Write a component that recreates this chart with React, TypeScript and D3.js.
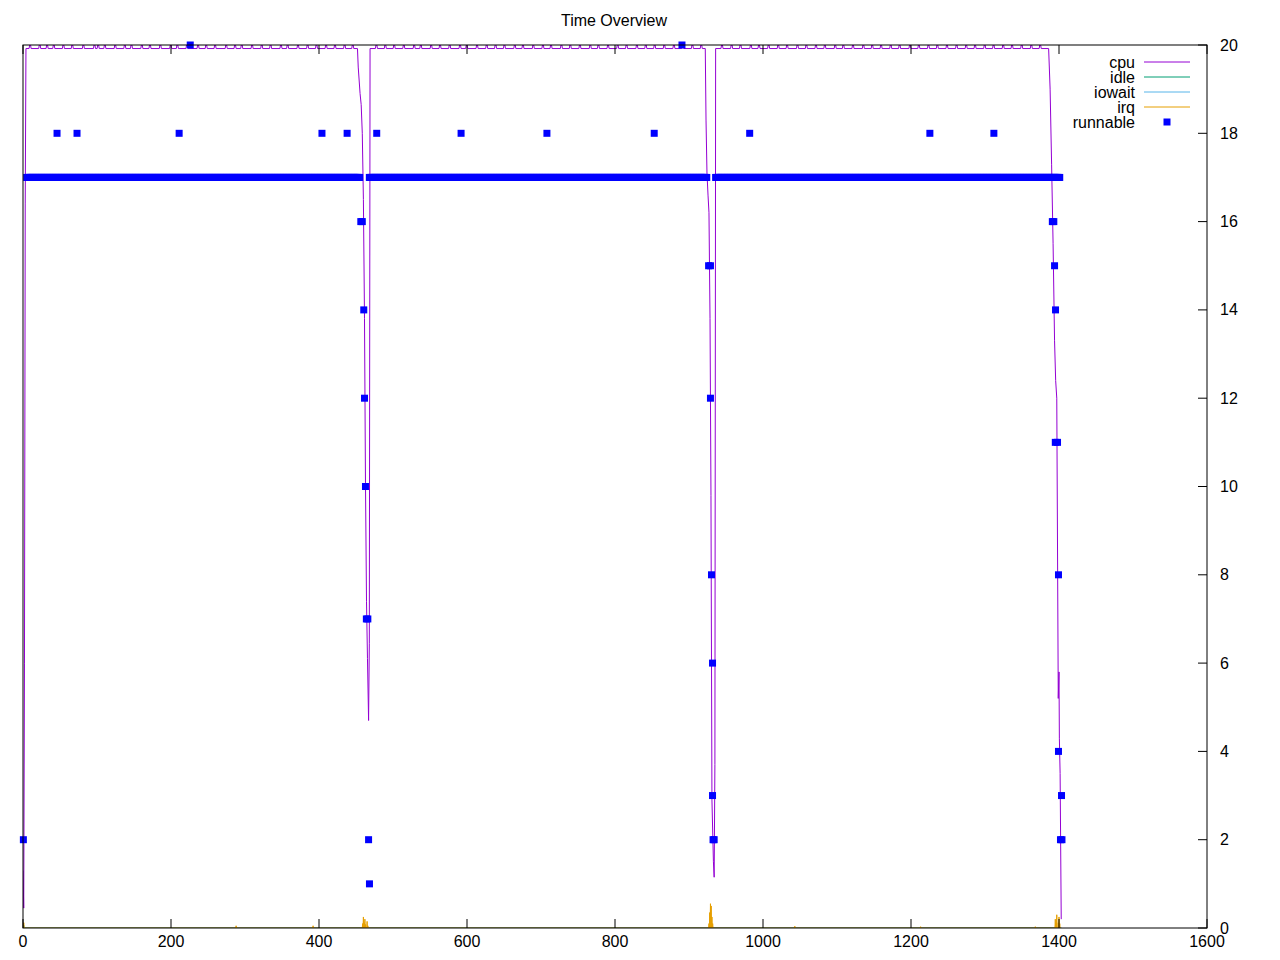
import React from "react";
import * as d3 from "d3";

// ---------- data ----------
const xTicks = [0, 200, 400, 600, 800, 1000, 1200, 1400, 1600];
const yTicks = [0, 2, 4, 6, 8, 10, 12, 14, 16, 18, 20];
const seriesNames = ["cpu", "idle", "iowait", "irq", "runnable"];
const seriesColors = ["#9400d3", "#009e73", "#56b4e9", "#e69f00", "#0000ff"];

const cpuPlateau = 19.92;
const cpuKeys: [number, number][] = [
  [0, 1.3], [1, 0.45], [2, 6.0], [3, 16.4], [4, 19.92],
  [452, 19.92], [453, 19.5], [455.5, 18.9], [457, 18.65], [458.5, 18.0], [460, 16.5], [461.5, 13.8],
  [462.8, 10.1], [464.2, 7.4], [465.5, 6.1], [467, 4.7], [468, 6.45], [469, 19.92],
  [922, 19.92], [923, 18.3], [924.3, 17.1], [925.7, 16.6], [927, 16.2], [928.4, 13.8], [929.7, 9.8],
  [931, 2.9], [933, 1.5], [934, 1.15], [935, 3.7], [936, 19.92],
  [1386, 19.92], [1388, 19.0], [1390, 17.3], [1392, 15.5], [1394, 13.3], [1395.5, 12.4], [1397, 12.0],
  [1399, 5.2], [1400, 5.8], [1400.5, 4.3], [1401.5, 3.5], [1403, 0.2],
];
const cpuBumps = [
  9, 22, 32, 41, 54, 66, 81, 96, 101, 110, 124, 137, 146, 160, 171, 185, 199, 208, 221, 236, 247, 259, 274, 286,
  295, 309, 322, 334, 348, 357, 371, 384, 396, 409, 421, 434, 445,
  477, 489, 501, 514, 528, 537, 551, 563, 576, 590, 599, 613, 626, 638, 650, 664, 675, 689, 702, 713, 727, 739,
  752, 766, 777, 790, 803, 815, 829, 841, 853, 866, 879, 891, 904, 916,
  944, 957, 969, 983, 994, 1007, 1020, 1032, 1046, 1058, 1071, 1083, 1097, 1108, 1121, 1135, 1147, 1159, 1172,
  1184, 1198, 1210, 1223, 1235, 1248, 1261, 1274, 1286, 1299, 1311, 1324, 1336, 1349, 1362, 1374,
];
const cpuBumpValue = 20.0;

const idleSpikes: [number, number][] = [[1, 0.06]];
const iowaitSpikes: [number, number][] = [];
const irqSpikes: [number, number][] = [
  [1, 0.12], [288, 0.05], [392, 0.05], [459, 0.1], [460, 0.25], [461, 0.12], [462, 0.2], [463, 0.08],
  [465, 0.15], [466, 0.05], [927, 0.1], [928, 0.35], [929, 0.55], [930, 0.5], [931, 0.25], [932, 0.1],
  [1043, 0.04], [1213, 0.03], [1368, 0.03], [1395, 0.2], [1397, 0.3], [1399, 0.12], [1400, 0.25], [1401, 0.1],
];
const seriesEnd = 1403;

// runnable: runs of constant value [start, end, value], one sample per second
const runnableRuns: [number, number, number][] = [
  [5, 455, 17], [468, 924, 17], [936, 1401, 17],
];
const runnablePoints: [number, number][] = [
  [0.5, 2], [46, 18], [73, 18], [211, 18], [226, 20], [404, 18], [438, 18],
  [456.5, 16], [458.5, 16], [460.5, 14], [461.5, 12], [462.8, 10], [464, 7], [466, 7], [467, 2], [468.2, 1],
  [478, 18], [592, 18], [708, 18], [853, 18], [890.5, 20],
  [926.5, 15], [929, 15], [929, 12], [930.4, 8], [931.8, 6], [931.8, 3], [932.5, 2], [934, 2],
  [982, 18], [1225.5, 18], [1312, 18],
  [1391, 16], [1393, 16], [1394, 15], [1395.3, 14], [1395, 11], [1398, 11], [1399.3, 8], [1399.3, 4],
  [1403.4, 3], [1402, 2], [1404, 2],
];

// ---------- layout ----------
const W = 1280, H = 960;
const L = 23, R = 1207, T = 45, B = 928;
const FONT = "'Liberation Sans', Arial, sans-serif";

const x = d3.scaleLinear().domain([0, 1600]).range([L, R]);
const y = d3.scaleLinear().domain([0, 20]).range([B, T]);

function buildCpu(): [number, number][] {
  const pts: [number, number][] = [...cpuKeys];
  for (const b of cpuBumps) {
    pts.push([b - 0.8, cpuPlateau], [b, cpuBumpValue], [b + 1.2, cpuBumpValue], [b + 2, cpuPlateau]);
  }
  return pts.sort((a, b) => a[0] - b[0]);
}
function buildSpiky(spikes: [number, number][]): [number, number][] {
  const pts: [number, number][] = [[0, 0]];
  for (const [t, v] of spikes) pts.push([t - 0.5, 0], [t, v], [t + 0.5, 0]);
  pts.push([seriesEnd, 0]);
  return pts.sort((a, b) => a[0] - b[0]);
}
function buildRunnable(): [number, number][] {
  const pts: [number, number][] = [];
  for (const [s, e, v] of runnableRuns) for (let t = s; t <= e; t++) pts.push([t, v]);
  return pts.concat(runnablePoints);
}

const line = d3.line<[number, number]>().x((d) => x(d[0])).y((d) => y(d[1]));

export default function App() {
  const lineSeries = [buildCpu(), buildSpiky(idleSpikes), buildSpiky(iowaitSpikes), buildSpiky(irqSpikes)];
  const runnable = buildRunnable();
  const ms = 7;
  return (
    <svg width={W} height={H} style={{ position: "absolute", left: 0, top: 0, background: "#fff" }}
      fontFamily={FONT}>
      <defs>
        <clipPath id="plot"><rect x={L} y={T} width={R - L} height={B - T} /></clipPath>
      </defs>
      <rect x={0} y={0} width={W} height={H} fill="#fff" />
      <text x={614} y={26} textAnchor="middle" fontSize={16}>Time Overview</text>

      <g clipPath="url(#plot)">
        {lineSeries.map((d, i) => (
          <path key={i} d={line(d) || ""} fill="none" stroke={seriesColors[i]} strokeWidth={1} />
        ))}
      </g>
      <g fill={seriesColors[4]}>
        {runnable.map((d, i) => (
          <rect key={i} x={x(d[0]) - ms / 2} y={y(d[1]) - ms / 2} width={ms} height={ms} />
        ))}
      </g>

      {/* axes */}
      <g stroke="#000" strokeWidth={1}>
        {xTicks.map((t) => (
          <g key={t}>
            <line x1={x(t)} x2={x(t)} y1={B} y2={B - 9} />
            <line x1={x(t)} x2={x(t)} y1={T} y2={T + 9} />
          </g>
        ))}
        {yTicks.map((t) => (
          <line key={t} x1={R} x2={R - 9} y1={y(t)} y2={y(t)} />
        ))}
      </g>
      <rect x={L} y={T} width={R - L} height={B - T} fill="none" stroke="#000" strokeWidth={1} />
      <g fontSize={16} fill="#000">
        {xTicks.map((t) => (
          <text key={t} x={x(t)} y={B + 19} textAnchor="middle">{t}</text>
        ))}
        {yTicks.map((t) => (
          <text key={t} x={R + 13} y={y(t) + 5.5} textAnchor="start">{t}</text>
        ))}
      </g>

      {/* legend */}
      <g fontSize={16}>
        {seriesNames.map((n, i) => {
          const yy = 62 + i * 15;
          return (
            <g key={n}>
              <text x={1135} y={yy + 5.5} textAnchor="end">{n}</text>
              {i < 4 ? (
                <line x1={1144} x2={1190} y1={yy} y2={yy} stroke={seriesColors[i]} strokeWidth={1} />
              ) : (
                <rect x={1167 - ms / 2} y={yy - ms / 2} width={ms} height={ms} fill={seriesColors[i]} />
              )}
            </g>
          );
        })}
      </g>
    </svg>
  );
}
